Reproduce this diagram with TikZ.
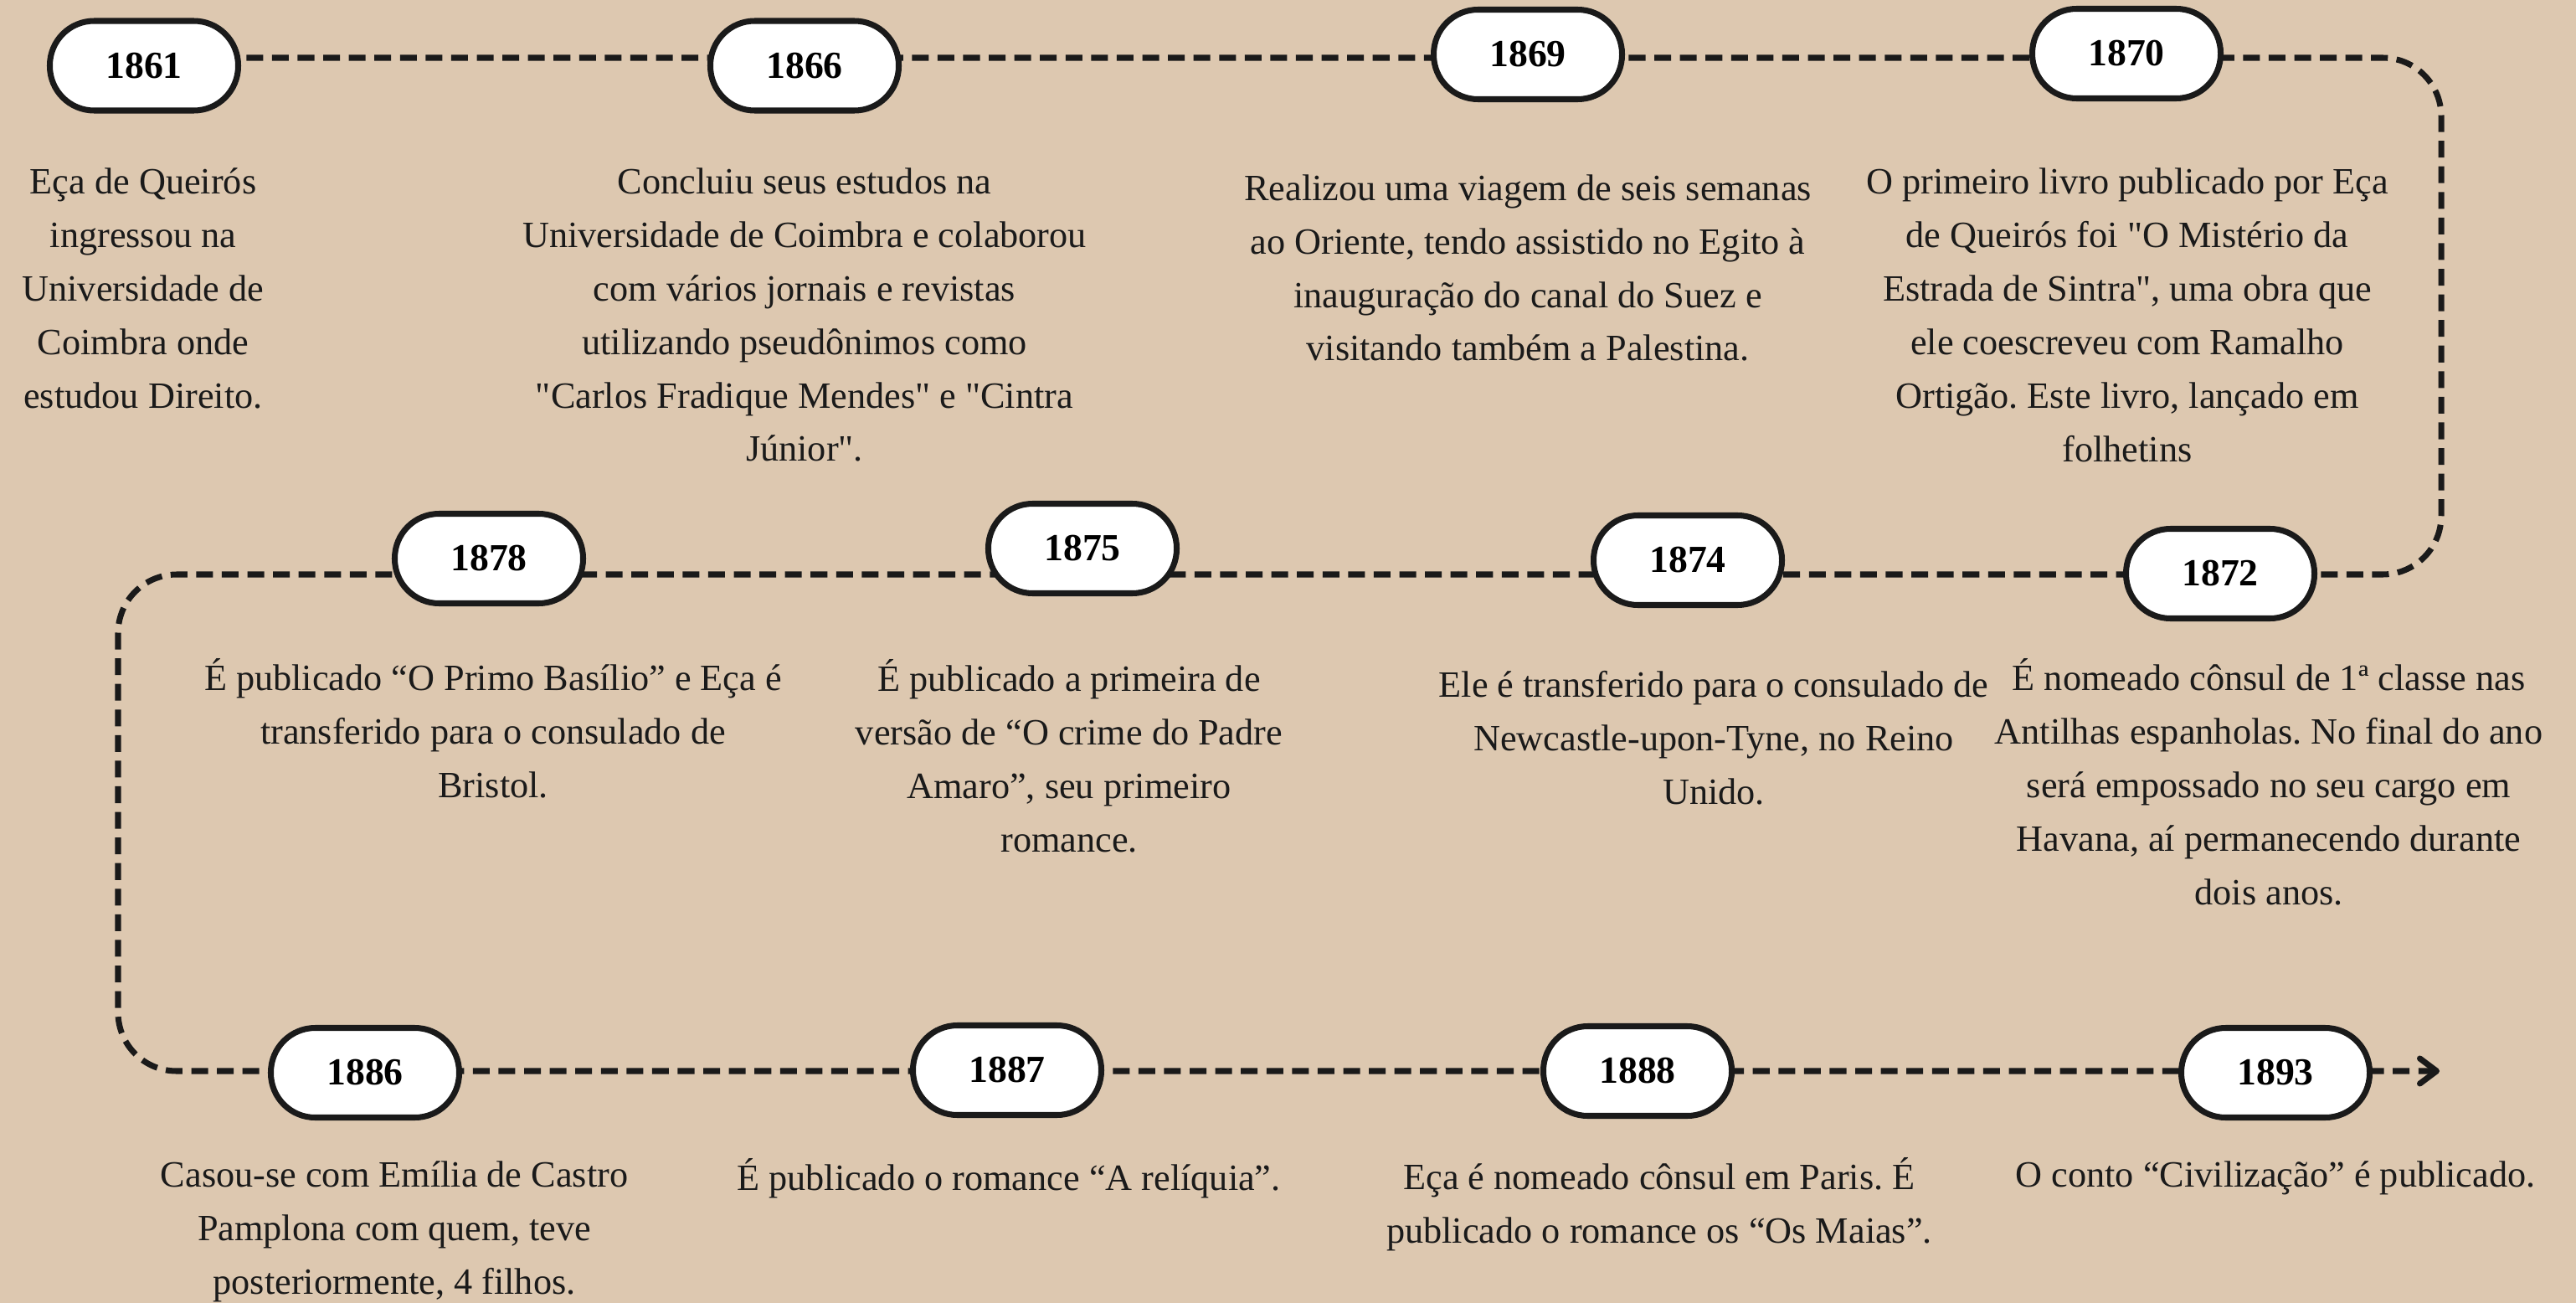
\documentclass[tikz,border=0pt]{standalone}
\usepackage{fontspec}
\setmainfont{Liberation Serif}[Ligatures=TeXOff]
\usetikzlibrary{arrows.meta,backgrounds}

\definecolor{paper}{HTML}{DDC8B0}
\definecolor{ink}{HTML}{1A1A1A}

\begin{document}
\begin{tikzpicture}[
    year/.style={draw=ink, line width=2pt, fill=white, rounded corners=0.53cm,
        minimum width=2.25cm, minimum height=1.07cm, inner sep=0pt,
        font=\fontsize{13}{15}\selectfont\bfseries, text=black},
    event/.style={align=center, inner sep=0pt, text=ink,
        font=\fontsize{12.6}{18.2}\selectfont\frenchspacing},
    timeline/.style={draw=ink, line width=2pt, dash pattern=on 5.7pt off 3pt,
        rounded corners=0.7cm}
]
    \useasboundingbox (0,0) rectangle (30.77,-15.56);

    % Year pills - top row (left to right)
    \node[year] (y1861) at (1.72,-0.785) {1861};
    \node[year] (y1866) at (9.61,-0.785) {1866};
    \node[year] (y1869) at (18.25,-0.65) {1869};
    \node[year] (y1870) at (25.40,-0.64) {1870};

    % Year pills - middle row (right to left)
    \node[year] (y1872) at (26.52,-6.85) {1872};
    \node[year] (y1874) at (20.16,-6.69) {1874};
    \node[year] (y1875) at (12.93,-6.55) {1875};
    \node[year] (y1878) at (5.84,-6.67) {1878};

    % Year pills - bottom row (left to right)
    \node[year] (y1886) at (4.36,-12.81) {1886};
    \node[year] (y1887) at (12.03,-12.78) {1887};
    \node[year] (y1888) at (19.56,-12.79) {1888};
    \node[year] (y1893) at (27.18,-12.81) {1893};

    % Turning points of the dashed line
    \coordinate (row1) at (0,-0.69);
    \coordinate (c1) at (29.16,-0.69);
    \coordinate (c2) at (29.16,-6.86);
    \coordinate (c3) at (1.41,-6.86);
    \coordinate (c4) at (1.41,-12.79);
    \coordinate (tip) at (29.14,-12.79);

    % Paper and dashed line behind the pills
    \begin{scope}[on background layer]
        \fill[paper] (0,0) rectangle (30.77,-15.56);
        \draw[timeline, -{Straight Barb[round, length=2mm, width=3mm]}]
            (y1861 |- row1) -- (c1) -- (c2) -- (c3) -- (c4) -- (tip);
    \end{scope}

    % Events - top row
    \node[event] (t1861) at (1.71,-3.44) {Eça de Queirós\\ingressou na\\Universidade de\\Coimbra onde\\estudou Direito.};
    \node[event] (t1866) at (9.61,-3.76) {Concluiu seus estudos na\\Universidade de Coimbra e colaborou\\com vários jornais e revistas\\utilizando pseudônimos como\\"Carlos Fradique Mendes" e "Cintra\\Júnior".};
    \node[event] (t1869) at (18.25,-3.20) {Realizou uma viagem de seis semanas\\ao Oriente, tendo assistido no Egito à\\inauguração do canal do Suez e\\visitando também a Palestina.};
    \node[event] (t1870) at (25.41,-3.76) {O primeiro livro publicado por Eça\\de Queirós foi "O Mistério da\\Estrada de Sintra", uma obra que\\ele coescreveu com Ramalho\\Ortigão. Este livro, lançado em\\folhetins};

    % Events - middle row
    \node[event] (t1878) at (5.89,-8.70) {É publicado “O Primo Basílio” e Eça é\\transferido para o consulado de\\Bristol.};
    \node[event] (t1875) at (12.77,-9.03) {É publicado a primeira de\\versão de “O crime do Padre\\Amaro”, seu primeiro\\romance.};
    \node[event] (t1874) at (20.47,-8.81) {Ele é transferido para o consulado de\\Newcastle-upon-Tyne, no Reino\\Unido.};
    \node[event] (t1872) at (27.10,-9.34) {É nomeado cônsul de 1ª classe nas\\Antilhas espanholas. No final do ano\\será empossado no seu cargo em\\Havana, aí permanecendo durante\\dois anos.};

    % Events - bottom row
    \node[event] (t1886) at (4.71,-14.71) {Casou-se com Emília de Castro\\Pamplona com quem, teve\\posteriormente, 4 filhos.};
    \node[event] (t1887) at (12.05,-14.07) {É publicado o romance “A relíquia”.};
    \node[event] (t1888) at (19.82,-14.38) {Eça é nomeado cônsul em Paris. É\\publicado o romance os “Os Maias”.};
    \node[event] (t1893) at (27.18,-14.07) {O conto “Civilização” é publicado.};
\end{tikzpicture}
\end{document}
